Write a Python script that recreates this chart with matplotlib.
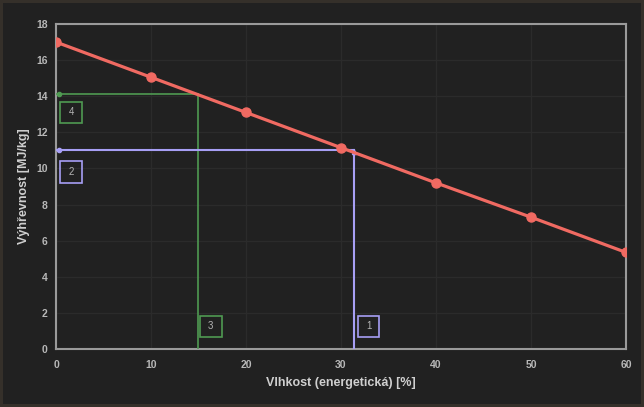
import matplotlib.pyplot as plt
from matplotlib.patches import Rectangle

plt.rcParams['font.family'] = ['Liberation Sans', 'DejaVu Sans']

# data
vlhkost = [0, 10, 20, 30, 40, 50, 60]
vyhrevnost = [17.0, 15.05, 13.1, 11.15, 9.2, 7.3, 5.35]

# helper lines (reading example): 1/2 blue, 3/4 green
blue_x = 31.4
blue_y = 11.0
green_x = 14.9
green_y = 14.15

labels = ['1', '2', '3', '4']
label_pos = [(32.9, 1.25), (1.6, 9.8), (16.3, 1.25), (1.6, 13.1)]
label_col = ['#a79ff5', '#a79ff5', '#4f9a52', '#4f9a52']

bg = '#212121'
tick_col = '#b8b8b8'

fig = plt.figure(figsize=(6.44, 4.07), dpi=100, facecolor=bg)
fig.patch.set_edgecolor('#35302a')
fig.patch.set_linewidth(3)
ax = fig.add_axes([56 / 644, 1 - 349 / 407, 570 / 644, 325 / 407])
ax.set_facecolor(bg)

ax.plot(vlhkost, vyhrevnost, color='#f06a62', lw=2.3, marker='o', ms=6.5, zorder=5)

# green lines
ax.plot([0, green_x], [green_y, green_y], color='#4f9a52', lw=1.2, zorder=3)
ax.plot([green_x, green_x], [0, green_y], color='#4f9a52', lw=1.2, zorder=3)
ax.plot([0.3], [green_y], 'o', color='#4f9a52', ms=3, zorder=3)
# blue lines
ax.plot([0, blue_x], [blue_y, blue_y], color='#a79ff5', lw=1.5, zorder=3)
ax.plot([blue_x, blue_x], [0, blue_y], color='#a79ff5', lw=1.5, zorder=3)
ax.plot([0.3], [blue_y], 'o', color='#a79ff5', ms=3, zorder=3)
ax.plot([blue_x], [blue_y - 0.1], '^', color='#a79ff5', ms=3, zorder=3)

for lab, (lx, ly), c in zip(labels, label_pos, label_col):
    ax.add_patch(Rectangle((lx - 1.15, ly - 0.6), 2.3, 1.2, fill=False,
                           edgecolor=c, lw=1.2, zorder=4))
    ax.text(lx, ly, lab, color='#b5b5b5', fontsize=7, ha='center', va='center', zorder=4)

ax.set_xlim(0, 60)
ax.set_ylim(0, 18)
ax.set_xticks(range(0, 61, 10))
ax.set_yticks(range(0, 19, 2))
ax.grid(True, color='#2b2b2b', lw=1)
ax.set_axisbelow(True)
for s in ax.spines.values():
    s.set_color('#9a9a9a')
    s.set_linewidth(1.5)
ax.tick_params(axis='x', colors=tick_col, length=0, labelsize=7.5, pad=8)
ax.tick_params(axis='y', colors=tick_col, length=0, labelsize=7.5, pad=6)
for t in ax.get_xticklabels() + ax.get_yticklabels():
    t.set_fontweight('bold')

ax.set_xlabel('Vlhkost (energetická) [%]', color='#cfcfcf', fontsize=9,
              fontweight='bold', labelpad=5)
ax.set_ylabel('Výhřevnost [MJ/kg]', color='#cfcfcf', fontsize=9,
              fontweight='bold', labelpad=4)

fig.savefig('out.png', dpi=100, facecolor=fig.get_facecolor(), edgecolor=fig.patch.get_edgecolor())
